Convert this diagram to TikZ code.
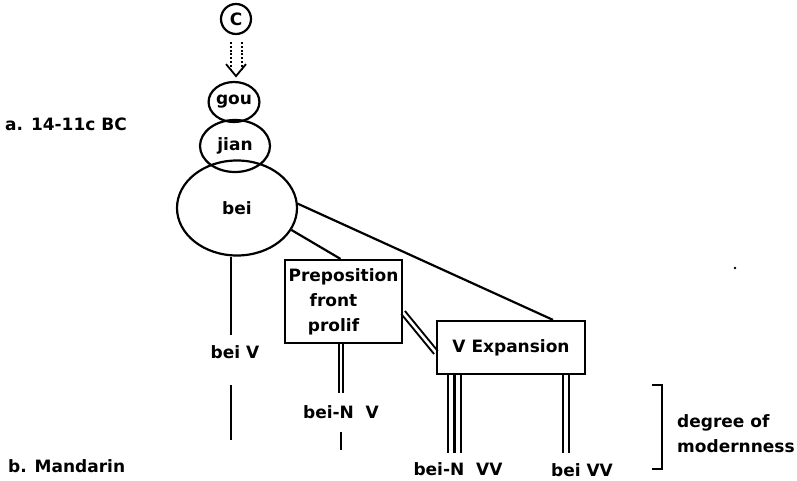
\documentclass[tikz,border=0pt]{standalone}
\usepackage{fontspec}
\setmainfont{DejaVu Sans}
\usetikzlibrary{shapes.geometric,backgrounds,calc}
\begin{document}
\begin{tikzpicture}[x=1pt,y=-1pt,
  txt/.style={font=\bfseries\fontsize{17}{25}\selectfont, inner sep=0pt},
  ln/.style={line width=2.2pt},
  dbl/.style={line width=2pt, double, double distance=2.6pt},
  dotline/.style={line width=2pt, dash pattern=on 2pt off 1.8pt},
  bubble/.style={draw, ellipse, line width=2.2pt, inner sep=0pt, txt},
  boxnode/.style={draw, rectangle, line width=2.2pt, inner sep=0pt, txt, align=center}]
\useasboundingbox (0,0) rectangle (797,481);

% period labels on the left
\node[txt, anchor=west] (era)  at (5,124) {a. 14-11c BC};
\node[txt, anchor=west] (mand) at (8,466) {b. Mandarin};

% source and the nested character bubbles
\node[bubble, minimum width=30, minimum height=30] (c) at (236,19) {C};
\node[bubble, minimum width=42, minimum height=40] (gou) at (234,102) {gou};
\node[bubble, minimum width=70, minimum height=52] (jian) at (235,146) {jian};
\node[bubble, minimum width=120, minimum height=95] (bei) at (237,208) {bei};

% developments
\node[boxnode, minimum width=117, minimum height=83] (prep) at (343.5,301.5)
  {Preposition\\\hspace*{-20pt}front\\\hspace*{-20pt}prolif};
\node[boxnode, minimum width=148, minimum height=53] (vexp) at (511,347.5) {V Expansion};

% modern forms
\node[txt] (beiv)  at (235,352) {bei V};
\node[txt] (bnv)   at (341,412) {bei-N\ \ V};
\node[txt] (bnvv)  at (458,469) {bei-N\ \ VV};
\node[txt] (beivv) at (582,470) {bei VV};

\node[txt, anchor=west, align=left] (deg) at (677,434) {degree of\\modernness};

\coordinate (beivend) at (231,440);
\coordinate (bnvend)  at (341,450);

\begin{scope}[on background layer]
  % dotted derivation arrow from C
  \draw[dotline] ([xshift=-5.5]c.south) ++(0,7) -- ++(0,28);
  \draw[dotline] ([xshift=5.5]c.south) ++(0,7) -- ++(0,28);
  \draw[line width=1.8pt] ([xshift=-10,yshift=-29]c.south) -- ([yshift=-41]c.south) -- ([xshift=10,yshift=-29]c.south);

  % bei to its descendants
  \draw[ln] (bei.south -| beivend) -- ($(beiv.north -| beivend)+(0,-10)$);
  \draw[ln] ($(beiv.south -| beivend)+(0,26)$) -- (beivend);
  \draw[ln] (bei.-22) -- ([xshift=-3]prep.north);
  \draw[ln] (bei.4) -- ([xshift=42]vexp.north);

  % preposition box links
  \draw[dbl] ([yshift=-11]prep.east) -- ([yshift=-5]vexp.west);
  \draw[dbl] (prep.south -| bnvend) -- ($(bnv.north -| bnvend)+(0,-12)$);
  \draw[ln] ($(bnv.south -| bnvend)+(0,13)$) -- (bnvend);

  % V expansion links
  \draw[ln] ([xshift=12]vexp.south west) -- ++(0,78);
  \draw[ln] ([xshift=18.5]vexp.south west) -- ++(0,78);
  \draw[ln] ([xshift=25]vexp.south west) -- ++(0,78);
  \draw[ln] ([xshift=-23]vexp.south east) -- ++(0,78);
  \draw[ln] ([xshift=-17]vexp.south east) -- ++(0,78);
\end{scope}

% bracket marking the modern forms
\draw[ln] ($(deg.west)+(-25,-49)$) -- ++(10,0) -- ++(0,84) -- ++(-10,0);

% stray mark
\fill (735,268) circle (1.4);
\end{tikzpicture}
\end{document}
